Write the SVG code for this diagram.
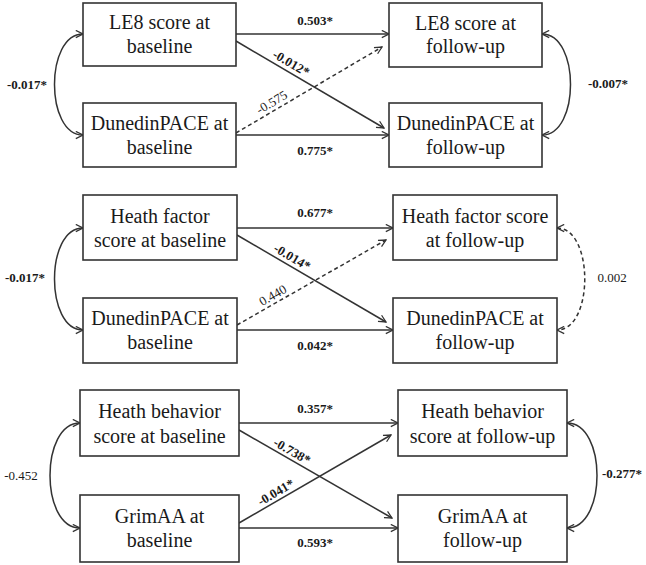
<svg xmlns="http://www.w3.org/2000/svg" width="646" height="565" viewBox="0 0 646 565">
<defs>
<marker id="ah" viewBox="0 0 10 10" refX="9" refY="5" markerWidth="9" markerHeight="9" markerUnits="userSpaceOnUse" orient="auto">
<path d="M1,1 L9,5 L1,9" fill="none" stroke="#333" stroke-width="1.4"/>
</marker>
<marker id="ahs" viewBox="0 0 10 10" refX="9" refY="5" markerWidth="9" markerHeight="9" markerUnits="userSpaceOnUse" orient="auto-start-reverse">
<path d="M1,1 L9,5 L1,9" fill="none" stroke="#333" stroke-width="1.4"/>
</marker>
</defs>
<style>
.box{fill:#fff;stroke:#333;stroke-width:1.6}
.n{font-family:"Liberation Serif","Times New Roman",serif;font-size:20px;fill:#1a1a1a;text-anchor:middle}
.l{font-family:"Liberation Serif","Times New Roman",serif;font-size:13px;fill:#1a1a1a;text-anchor:middle}
.b{font-weight:bold}
.c{fill:none;stroke:#333;stroke-width:1.5;marker-end:url(#ah)}
.cv{fill:none;stroke:#333;stroke-width:1.5;marker-end:url(#ah);marker-start:url(#ahs)}
.d{stroke-dasharray:4,3}
</style>
<rect x="0" y="0" width="646" height="565" fill="#fff"/>
<g id="connectors">
<path class="c" d="M236,34 L389,34"/>
<path class="c" d="M236,135 L389,135"/>
<path class="c" d="M236,41 L384,128"/>
<path class="c d" d="M236,133 L382,47"/>
<path class="cv" d="M83,34 C45,34 45,135 83,135"/>
<path class="cv" d="M542,34 C580,34 580,135 542,135"/>
<path class="c" d="M237,228 L393,228"/>
<path class="c" d="M237,330 L393,330"/>
<path class="c" d="M237,235 L386,322"/>
<path class="c d" d="M237,325 L386,240"/>
<path class="cv" d="M83,228 C45,228 45,330 83,330"/>
<path class="cv d" d="M557,228 C594,228 594,330 557,330"/>
<path class="c" d="M239,423 L398,423"/>
<path class="c" d="M239,528 L398,528"/>
<path class="c" d="M239,430 L392,518"/>
<path class="c" d="M239,523 L391,435"/>
<path class="cv" d="M80,423 C40,423 40,528 80,528"/>
<path class="cv" d="M567,423 C607,423 607,528 567,528"/>
</g>
<g id="labels">
<text class="l b" x="315" y="25">0.503*</text>
<text class="l b" x="315" y="155">0.775*</text>
<text class="l b" transform="translate(289,67) rotate(30.3)">-0.012*</text>
<text class="l" transform="translate(274,106) rotate(-30.5)">-0.575</text>
<text class="l b" x="27" y="89">-0.017*</text>
<text class="l b" x="608" y="88">-0.007*</text>
<text class="l b" x="315" y="217">0.677*</text>
<text class="l b" x="315" y="350">0.042*</text>
<text class="l b" transform="translate(290,261) rotate(30.4)">-0.014*</text>
<text class="l" transform="translate(275,299) rotate(-29.9)">0.440</text>
<text class="l b" x="25" y="282">-0.017*</text>
<text class="l" x="612" y="282">0.002</text>
<text class="l b" x="315" y="413">0.357*</text>
<text class="l b" x="315" y="547">0.593*</text>
<text class="l b" transform="translate(290,455) rotate(29.9)">-0.738*</text>
<text class="l b" transform="translate(278,496) rotate(-30.3)">-0.041*</text>
<text class="l" x="21" y="480">-0.452</text>
<text class="l b" x="622" y="478">-0.277*</text>
</g>
<g id="le8_base"><rect class="box" x="83" y="3" width="153" height="63"/><text class="n" x="159.5" y="29">LE8 score at</text><text class="n" x="159.5" y="53">baseline</text></g>
<g id="dp_base1"><rect class="box" x="83" y="103" width="153" height="64"/><text class="n" x="159.5" y="130">DunedinPACE at</text><text class="n" x="159.5" y="154">baseline</text></g>
<g id="le8_fu"><rect class="box" x="389" y="3" width="153" height="64"/><text class="n" x="465.5" y="30">LE8 score at</text><text class="n" x="465.5" y="53">follow-up</text></g>
<g id="dp_fu1"><rect class="box" x="389" y="103" width="153" height="64"/><text class="n" x="465.5" y="130">DunedinPACE at</text><text class="n" x="465.5" y="154">follow-up</text></g>
<g id="hf_base"><rect class="box" x="83" y="195" width="154" height="65"/><text class="n" x="160" y="223">Heath factor</text><text class="n" x="160" y="247">score at baseline</text></g>
<g id="dp_base2"><rect class="box" x="83" y="298" width="154" height="65"/><text class="n" x="160" y="325">DunedinPACE at</text><text class="n" x="160" y="349">baseline</text></g>
<g id="hf_fu"><rect class="box" x="393" y="195" width="164" height="65"/><text class="n" x="475" y="223">Heath factor score</text><text class="n" x="475" y="247">at follow-up</text></g>
<g id="dp_fu2"><rect class="box" x="393" y="298" width="164" height="65"/><text class="n" x="475" y="325">DunedinPACE at</text><text class="n" x="475" y="349">follow-up</text></g>
<g id="hb_base"><rect class="box" x="80" y="390" width="159" height="66"/><text class="n" x="159.5" y="418">Heath behavior</text><text class="n" x="159.5" y="443">score at baseline</text></g>
<g id="grim_base"><rect class="box" x="80" y="495" width="159" height="67"/><text class="n" x="159.5" y="523">GrimAA at</text><text class="n" x="159.5" y="547">baseline</text></g>
<g id="hb_fu"><rect class="box" x="398" y="390" width="169" height="66"/><text class="n" x="482.5" y="418">Heath behavior</text><text class="n" x="482.5" y="443">score at follow-up</text></g>
<g id="grim_fu"><rect class="box" x="398" y="495" width="169" height="67"/><text class="n" x="482.5" y="523">GrimAA at</text><text class="n" x="482.5" y="547">follow-up</text></g>
</svg>
